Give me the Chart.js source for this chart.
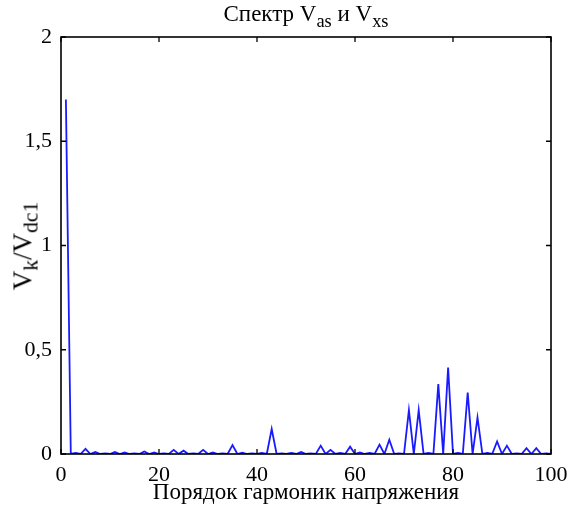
<!DOCTYPE html>
<html>
<head>
<meta charset="utf-8">
<script src="https://cdn.jsdelivr.net/npm/chart.js@4"></script>
<style>
  html, body { margin: 0; padding: 0; background: #fff; }
  #wrap { position: relative; width: 568px; height: 508px; }
  canvas { position: absolute; left: 0; top: 0; }
  .lbl { position: absolute; font-family: "Liberation Serif", "DejaVu Serif", serif; color: #000; white-space: nowrap; }
  .lbl sub { font-size: 80%; vertical-align: -0.3em; line-height: 0; }
  #title { left: 306px; top: 1px; transform: translateX(-50%); font-size: 23px; }
  #xtitle { left: 306px; top: 479px; transform: translateX(-50%); font-size: 23px; }
  #ytitle { left: 23px; top: 246px; transform: translate(-50%, -50%) rotate(-90deg); font-size: 27px; }
</style>
</head>
<body>
<div id="wrap">
  <canvas id="c" width="568" height="508"></canvas>
  <div class="lbl" id="title">Спектр V<sub>as</sub> и V<sub>xs</sub></div>
  <div class="lbl" id="ytitle">V<sub>k</sub>/V<sub>dc1</sub></div>
  <div class="lbl" id="xtitle">Порядок гармоник напряжения</div>
</div>
<script>
// Harmonic orders (x) and spectrum magnitudes Vk/Vdc1 (y)
const harmonicOrders = [
  1, 2, 3, 4, 5, 6, 7, 8, 9, 10,
  11, 12, 13, 14, 15, 16, 17, 18, 19, 20,
  21, 22, 23, 24, 25, 26, 27, 28, 29, 30,
  31, 32, 33, 34, 35, 36, 37, 38, 39, 40,
  41, 42, 43, 44, 45, 46, 47, 48, 49, 50,
  51, 52, 53, 54, 55, 56, 57, 58, 59, 60,
  61, 62, 63, 64, 65, 66, 67, 68, 69, 70,
  71, 72, 73, 74, 75, 76, 77, 78, 79, 80,
  81, 82, 83, 84, 85, 86, 87, 88, 89, 90,
  91, 92, 93, 94, 95, 96, 97, 98, 99, 100
];
const spectrumValues = [
  1.70, 0, 0.005, 0, 0.025, 0, 0.010, 0, 0.003, 0,
  0.010, 0, 0.008, 0, 0.003, 0, 0.012, 0, 0.008, 0,
  0.003, 0, 0.020, 0, 0.016, 0, 0.003, 0, 0.020, 0,
  0.007, 0, 0.003, 0, 0.043, 0, 0.006, 0, 0.003, 0,
  0.005, 0, 0.120, 0, 0.003, 0, 0.005, 0, 0.010, 0,
  0.003, 0, 0.040, 0, 0.020, 0, 0.005, 0, 0.035, 0,
  0.008, 0, 0.005, 0, 0.045, 0, 0.068, 0, 0.003, 0,
  0.210, 0, 0.210, 0, 0.005, 0, 0.335, 0, 0.415, 0,
  0.005, 0, 0.295, 0, 0.175, 0, 0.005, 0, 0.060, 0,
  0.040, 0, 0.003, 0, 0.028, 0, 0.028, 0, 0.003, 0
];
const xTicks = [0, 20, 40, 60, 80, 100];
const yTicks = [0, 0.5, 1, 1.5, 2];

const points = harmonicOrders.map((h, i) => ({ x: h, y: spectrumValues[i] }));
const FONT = { family: '"Liberation Serif", "DejaVu Serif", serif', size: 22 };

const boxPlugin = {
  id: 'box',
  afterDraw(chart) {
    const { ctx, chartArea: a, scales } = chart;
    ctx.save();
    ctx.strokeStyle = '#000';
    ctx.lineWidth = 1.6;
    ctx.strokeRect(a.left, a.top, a.right - a.left, a.bottom - a.top);
    const L = 5;
    ctx.lineWidth = 1.3;
    ctx.beginPath();
    xTicks.forEach(v => {
      const px = scales.x.getPixelForValue(v);
      ctx.moveTo(px, a.bottom); ctx.lineTo(px, a.bottom - L);
      ctx.moveTo(px, a.top); ctx.lineTo(px, a.top + L);
    });
    yTicks.forEach(v => {
      const py = scales.y.getPixelForValue(v);
      ctx.moveTo(a.left, py); ctx.lineTo(a.left + L, py);
      ctx.moveTo(a.right, py); ctx.lineTo(a.right - L, py);
    });
    ctx.stroke();
    ctx.restore();
  }
};

new Chart(document.getElementById('c'), {
  type: 'line',
  data: {
    datasets: [{
      data: points,
      borderColor: '#1a1aff',
      borderWidth: 1.8,
      pointRadius: 0,
      tension: 0,
      fill: false
    }]
  },
  options: {
    responsive: false,
    animation: false,
    events: [],
    layout: { padding: { top: 37, right: 17, left: 0, bottom: 0 } },
    plugins: { legend: { display: false }, tooltip: { enabled: false }, title: { display: false } },
    scales: {
      x: {
        type: 'linear', min: 0, max: 100,
        afterFit: s => { s.height = 54; s.paddingLeft = 0; s.paddingRight = 0; },
        afterBuildTicks: s => { s.ticks = xTicks.map(v => ({ value: v })); },
        grid: { display: false, drawTicks: false },
        border: { display: false },
        ticks: { font: FONT, color: '#000', padding: 8, maxRotation: 0, autoSkip: false }
      },
      y: {
        type: 'linear', min: 0, max: 2,
        afterFit: s => { s.width = 61; s.paddingTop = 0; s.paddingBottom = 0; },
        afterBuildTicks: s => { s.ticks = yTicks.map(v => ({ value: v })); },
        grid: { display: false, drawTicks: false },
        border: { display: false },
        ticks: { font: FONT, color: '#000', padding: 9, autoSkip: false,
                 callback: v => String(v).replace('.', ',') }
      }
    }
  },
  plugins: [boxPlugin]
});
</script>
</body>
</html>
